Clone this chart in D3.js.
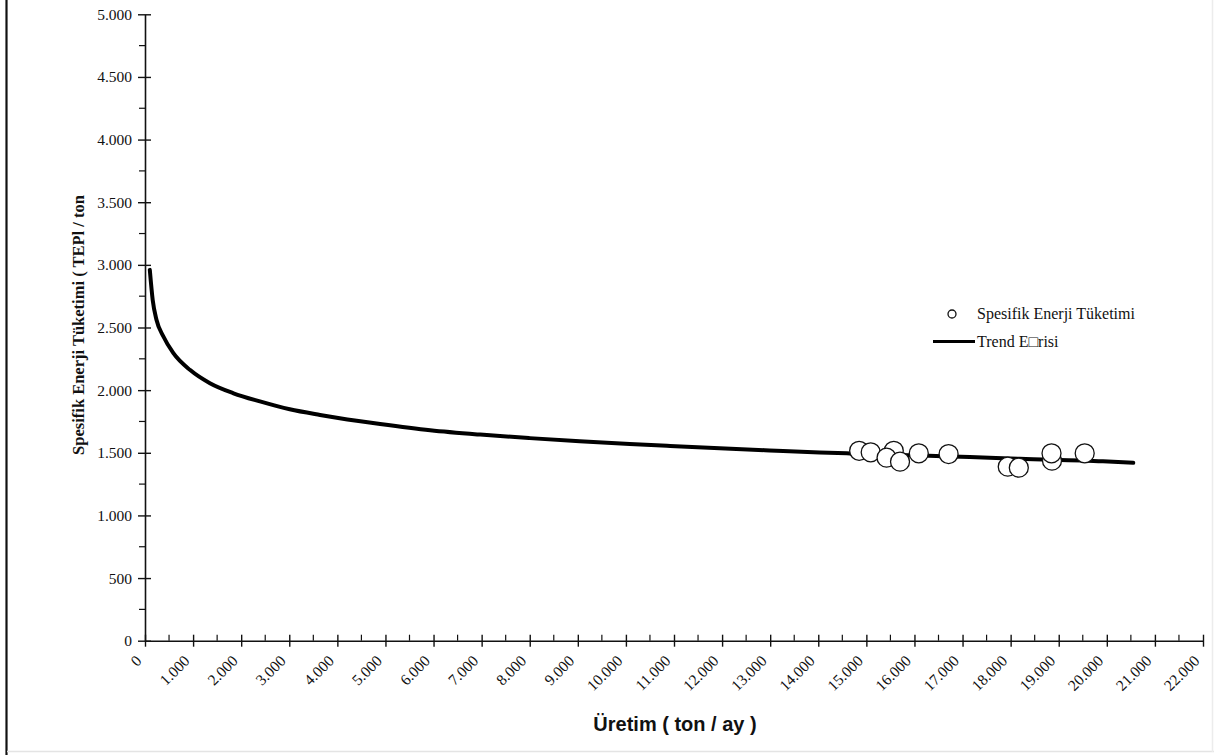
<!DOCTYPE html>
<html>
<head>
<meta charset="utf-8">
<script src="https://cdn.jsdelivr.net/npm/d3@7"></script>
<style>
	body { margin: 0; background: #fff; }
	svg { display: block; }
	.tick text { font-family: "Liberation Serif", "Times New Roman", serif; font-size: 15.5px; fill: #111; }
	.axis path, .axis line { stroke: #111; }
</style>
</head>
<body>
<svg id="chart" width="1214" height="755"></svg>
<script>
// production (ton / ay) and specific energy consumption of the measured months
var uretim = [14850, 15090, 15570, 15420, 15700, 16090, 16710, 17940, 18170, 18860, 18850, 19540];
var spesifik = [1516, 1504, 1516, 1461, 1429, 1496, 1490, 1389, 1381, 1437, 1496, 1496];

// trend curve
var trendX = [100, 160, 240, 380, 590, 940, 1350, 1840, 2390, 3010, 3640, 4050, 4890, 5930, 6970, 8000, 9040, 10080, 10920, 11950, 12990, 14030, 14660, 15500, 16300, 17150, 18190, 19920, 20550];
var trendY = [2960, 2720, 2560, 2430, 2295, 2160, 2055, 1975, 1910, 1847, 1802, 1776, 1730, 1680, 1645, 1617, 1592, 1570, 1554, 1536, 1519, 1503, 1495, 1485, 1476, 1466, 1452, 1432, 1420];

var xTicks = [0, 1000, 2000, 3000, 4000, 5000, 6000, 7000, 8000, 9000, 10000, 11000, 12000, 13000, 14000, 15000, 16000, 17000, 18000, 19000, 20000, 21000, 22000];
var yTicks = [0, 500, 1000, 1500, 2000, 2500, 3000, 3500, 4000, 4500, 5000];

var legendLabels = ["Spesifik Enerji Tüketimi", "Trend E\u25A1risi"];

var svg = d3.select("#chart");
var trFormat = d3.formatLocale({ decimal: ",", thousands: ".", grouping: [3], currency: ["", ""] }).format(",");

var x = d3.scaleLinear().domain([0, 22000]).range([145, 1203]);
var y = d3.scaleLinear().domain([0, 5000]).range([640.7, 14.3]);

// page frame
svg.append("line").attr("x1", 6.5).attr("x2", 6.5).attr("y1", 0).attr("y2", 755)
	.attr("stroke", "#111").attr("stroke-width", 2.2);
svg.append("line").attr("x1", 7).attr("x2", 1214).attr("y1", 751.5).attr("y2", 751.5)
	.attr("stroke", "#e4e4e4").attr("stroke-width", 1.5);
svg.append("line").attr("x1", 1212.5).attr("x2", 1212.5).attr("y1", 0).attr("y2", 752)
	.attr("stroke", "#ececec").attr("stroke-width", 1.5);

// minor ticks first, then the axes with crossing major ticks
var minorY = yTicks.slice(0, -1).map(function(v) { return v + 250; });
svg.append("g").selectAll("line").data(minorY).join("line")
	.attr("x1", 139).attr("x2", 145)
	.attr("y1", function(d) { return y(d); }).attr("y2", function(d) { return y(d); })
	.attr("stroke", "#111").attr("stroke-width", 1.2);

var minorX = xTicks.slice(0, -1).map(function(v) { return v + 500; });
svg.append("g").selectAll("line").data(minorX).join("line")
	.attr("x1", function(d) { return x(d); }).attr("x2", function(d) { return x(d); })
	.attr("y1", y(0) - 6).attr("y2", y(0))
	.attr("stroke", "#111").attr("stroke-width", 1.2);

var yAxis = svg.append("g").attr("class", "axis")
	.attr("transform", "translate(" + x(0) + ",0)")
	.call(d3.axisLeft(y).tickValues(yTicks).tickFormat(trFormat).tickSize(6).tickSizeOuter(0).tickPadding(7));
yAxis.selectAll(".tick line").attr("x2", 6).attr("x1", -7).attr("stroke-width", 1.4);
yAxis.select(".domain").attr("stroke-width", 1.6);

var xAxis = svg.append("g").attr("class", "axis")
	.attr("transform", "translate(0," + y(0) + ")")
	.call(d3.axisBottom(x).tickValues(xTicks).tickFormat(trFormat).tickSize(6).tickSizeOuter(0));
xAxis.selectAll(".tick line").attr("y1", -6).attr("y2", 6).attr("stroke-width", 1.4);
xAxis.select(".domain").attr("stroke-width", 1.6);
xAxis.selectAll(".tick text")
	.attr("text-anchor", "end")
	.attr("dy", 0)
	.attr("transform", "translate(-3,21) rotate(-45)")
	.attr("y", 0).attr("x", 0);

// axis titles
svg.append("text")
	.attr("transform", "translate(84," + 325 + ") rotate(-90)")
	.attr("text-anchor", "middle")
	.style("font-family", "'Liberation Serif', 'Times New Roman', serif")
	.style("font-weight", "bold")
	.style("font-size", "16.5px")
	.attr("fill", "#111")
	.text("Spesifik Enerji Tüketimi ( TEPl / ton");

svg.append("text")
	.attr("x", 675).attr("y", 731)
	.attr("text-anchor", "middle")
	.style("font-family", "'Liberation Sans', Arial, sans-serif")
	.style("font-weight", "bold")
	.style("font-size", "20px")
	.attr("fill", "#111")
	.text("Üretim ( ton / ay )");

// trend line
var trend = trendX.map(function(v, i) { return [v, trendY[i]]; });
var line = d3.line()
	.x(function(d) { return x(d[0]); })
	.y(function(d) { return y(d[1]); })
	.curve(d3.curveMonotoneX);

svg.append("path")
	.datum(trend)
	.attr("d", line)
	.attr("fill", "none")
	.attr("stroke", "#000")
	.attr("stroke-width", 4)
	.attr("stroke-linecap", "round");

// measured points
var points = uretim.map(function(v, i) { return { x: v, y: spesifik[i] }; });
svg.append("g").selectAll("circle").data(points).join("circle")
	.attr("cx", function(d) { return x(d.x); })
	.attr("cy", function(d) { return y(d.y); })
	.attr("r", 9.5)
	.attr("fill", "#fff")
	.attr("stroke", "#111")
	.attr("stroke-width", 1.3);

// legend
var legend = svg.append("g").attr("class", "legend")
	.style("font-family", "'Liberation Serif', 'Times New Roman', serif")
	.style("font-size", "16px");

legend.append("circle").attr("cx", 952).attr("cy", 314).attr("r", 4)
	.attr("fill", "#fff").attr("stroke", "#111").attr("stroke-width", 1.3);
legend.append("text").attr("x", 977).attr("y", 319).attr("fill", "#111").text(legendLabels[0]);

legend.append("line").attr("x1", 933).attr("x2", 975).attr("y1", 341.5).attr("y2", 341.5)
	.attr("stroke", "#000").attr("stroke-width", 3);
legend.append("text").attr("x", 977).attr("y", 347).attr("fill", "#111").text(legendLabels[1]);
</script>
</body>
</html>
